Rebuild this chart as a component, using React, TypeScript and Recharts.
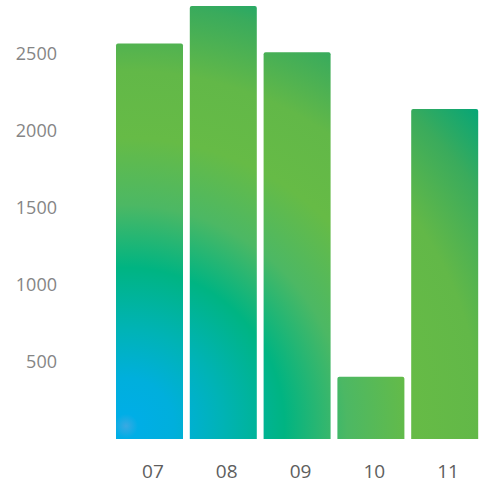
import React from "react";
import { BarChart, Bar, XAxis, YAxis } from "recharts";

const months = ["07", "08", "09", "10", "11"];
const amounts = [2568, 2812, 2511, 405, 2143];
const yTicks = [500, 1000, 1500, 2000, 2500];

const data = months.map((month, i) => ({ month, amount: amounts[i] }));

export default function App() {
  return (
    <div
      style={{
        position: "absolute",
        left: 0,
        top: 0,
        width: 480,
        height: 485,
        overflow: "hidden",
        fontFamily: "'Open Sans', sans-serif",
      }}
    >
      <BarChart
        width={482}
        height={485}
        data={data}
        margin={{ top: 6, right: 0, bottom: 0, left: 0 }}
      >
        <defs>
          {/* one radial fill spread across the whole plot, centred bottom-left */}
          <radialGradient
            id="barGlow"
            gradientUnits="userSpaceOnUse"
            cx={126}
            cy={426}
            r={480}
          >
            <stop offset="0" stopColor="#3aa9e2" />
            <stop offset="0.025" stopColor="#00aee6" />
            <stop offset="0.1" stopColor="#00afdc" />
            <stop offset="0.2" stopColor="#00b3b6" />
            <stop offset="0.33" stopColor="#00b482" />
            <stop offset="0.46" stopColor="#4cb864" />
            <stop offset="0.6" stopColor="#66bb46" />
            <stop offset="0.74" stopColor="#62b848" />
            <stop offset="0.88" stopColor="#3aab5c" />
            <stop offset="1" stopColor="#00a57a" />
          </radialGradient>
        </defs>
        <XAxis
          dataKey="month"
          axisLine={false}
          tickLine={false}
          tickSize={0}
          tickMargin={26}
          height={46}
          dx={3}
          tick={{ fill: "#5e5e5e", fontSize: 19 }}
        />
        <YAxis
          domain={[0, "dataMax"]}
          ticks={yTicks}
          axisLine={false}
          tickLine={false}
          tickSize={0}
          tickMargin={56}
          width={113}
          tick={{ fill: "#858585", fontSize: 18 }}
        />
        <Bar
          dataKey="amount"
          fill="url(#barGlow)"
          barSize={67}
          radius={[2, 2, 0, 0]}
          isAnimationActive={false}
        />
      </BarChart>
    </div>
  );
}
